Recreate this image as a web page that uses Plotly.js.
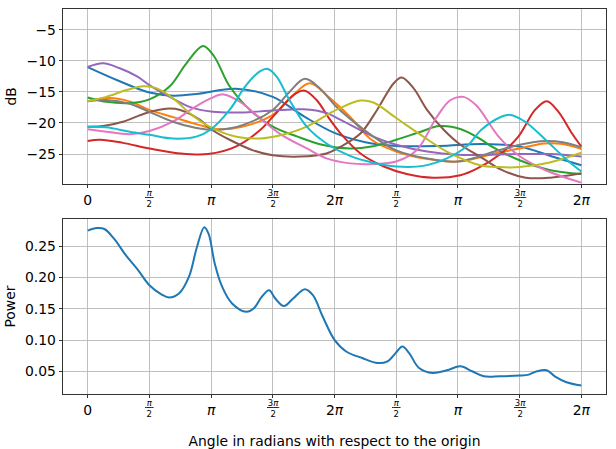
<!DOCTYPE html>
<html>
<head>
<meta charset="utf-8">
<script src="https://cdn.plot.ly/plotly-3.0.1.min.js"></script>
<style>html,body{margin:0;padding:0;background:#fff;}#chart{width:616px;height:449px;}</style>
</head>
<body>
<div id="chart"></div>
<script>
// Angles are given in units of pi/2 (quarter turns); converted to radians below.
const blueU   = [0, 0.5, 1, 1.4, 1.8, 2.4, 3, 3.5, 4, 4.5, 5, 5.7, 6.4, 7, 7.5, 8];
const blueDb  = [-11.0, -13.2, -15.1, -15.6, -15.3, -14.5, -15.8, -18.9, -21.6, -23.1, -23.7, -23.7, -23.4, -23.8, -25.3, -26.8];

const orangeU  = [0, 0.35, 0.7, 1, 1.4, 1.8, 2.1, 2.5, 3, 3.3, 3.6, 3.9, 4.25, 4.6, 5, 5.45, 6, 6.6, 7, 7.4, 7.7, 8];
const orangeDb = [-16.5, -16.0, -16.6, -17.9, -19.1, -20.3, -21.0, -20.6, -18.7, -15.8, -13.6, -15.8, -19.0, -22.7, -24.6, -25.7, -26.2, -24.9, -24.1, -23.3, -23.4, -24.2];

const greenU  = [0, 0.3, 0.7, 1, 1.33, 1.6, 1.87, 2.05, 2.3, 2.63, 3, 3.4, 3.8, 4.25, 4.6, 5, 5.4, 5.7, 6.05, 6.35, 6.55, 7, 7.5, 8];
const greenDb = [-15.9, -16.6, -16.8, -16.2, -14.1, -10.4, -7.6, -9.3, -14.1, -17.9, -20.6, -22.2, -23.5, -24.1, -23.8, -22.7, -21.4, -20.5, -21.0, -22.5, -23.8, -26.0, -27.6, -28.2];

const redU  = [0, 0.2, 0.57, 1, 1.5, 1.95, 2.4, 2.8, 3.1, 3.38, 3.52, 3.71, 3.93, 4.1, 4.42, 4.8, 5.17, 5.6, 6.04, 6.3, 6.7, 6.98, 7.25, 7.44, 7.63, 7.85, 8];
const redDb = [-22.9, -22.7, -23.2, -24.1, -24.9, -25.0, -23.8, -21.1, -17.9, -15.2, -14.8, -16.3, -19.5, -21.7, -24.9, -27.0, -28.2, -28.8, -28.4, -27.4, -24.9, -22.2, -17.9, -16.5, -18.2, -21.7, -23.8];

const purpleU  = [0, 0.25, 0.52, 0.8, 1, 1.33, 1.65, 2.03, 2.5, 3, 3.5, 3.87, 4.1, 4.63, 5, 5.5, 6, 7, 7.5, 8];
const purpleDb = [-11.0, -10.4, -11.2, -12.5, -13.9, -15.8, -17.4, -18.2, -18.3, -18.0, -17.8, -18.4, -19.5, -22.2, -23.5, -24.6, -25.1, -25.0, -25.0, -25.4];

const brownU  = [0, 0.25, 0.57, 0.95, 1.27, 1.5, 1.82, 2.0, 2.3, 2.68, 3, 3.44, 3.87, 4.1, 4.42, 4.69, 4.96, 5.09, 5.28, 5.5, 5.77, 6.04, 6.36, 6.7, 7.1, 7.5, 8];
const brownDb = [-20.6, -20.5, -19.8, -18.4, -17.7, -17.9, -19.5, -21.0, -22.7, -24.4, -25.2, -25.4, -24.9, -23.8, -21.7, -17.9, -13.6, -12.7, -14.4, -17.9, -21.1, -23.5, -25.4, -27.5, -28.8, -28.8, -28.1];

const pinkU  = [0, 0.3, 0.68, 1, 1.38, 1.71, 2.0, 2.2, 2.47, 2.79, 3.11, 3.55, 3.87, 4.25, 4.63, 5, 5.33, 5.66, 5.88, 6.09, 6.3, 6.66, 6.98, 7.42, 8];
const pinkDb = [-21.0, -21.4, -21.8, -21.3, -19.8, -17.6, -16.0, -15.4, -16.6, -19.2, -21.7, -24.1, -25.7, -26.5, -26.6, -26.2, -24.4, -19.0, -16.3, -15.8, -17.2, -22.2, -25.2, -27.6, -29.6];

const grayU  = [0, 0.3, 0.68, 1, 1.38, 1.76, 2.1, 2.52, 3, 3.27, 3.52, 3.76, 4.03, 4.25, 4.63, 5, 5.5, 6, 6.66, 7, 7.42, 7.7, 8];
const grayDb = [-16.5, -16.3, -16.9, -18.2, -19.8, -20.8, -21.1, -20.3, -17.9, -15.0, -12.9, -14.4, -17.4, -19.3, -22.2, -24.4, -25.7, -26.2, -24.4, -23.5, -22.9, -23.1, -23.9];

const oliveU  = [0, 0.3, 0.63, 0.9, 1.11, 1.38, 1.65, 1.92, 2.2, 2.41, 2.79, 3.16, 3.55, 3.93, 4.09, 4.42, 4.63, 5, 5.44, 5.82, 6.36, 6.66, 7, 7.47, 8];
const oliveDb = [-16.5, -15.8, -14.7, -14.1, -14.4, -16.0, -18.4, -20.3, -21.6, -22.2, -22.5, -21.9, -20.6, -18.4, -17.6, -16.4, -16.7, -19.2, -22.2, -24.6, -26.8, -27.1, -27.1, -26.4, -24.8];

const cyanU  = [0, 0.3, 0.68, 1, 1.38, 1.76, 2.0, 2.3, 2.57, 2.79, 2.92, 3.06, 3.27, 3.55, 3.87, 4.25, 4.63, 5, 5.44, 5.82, 6.14, 6.38, 6.66, 6.85, 7.09, 7.42, 7.74, 8];
const cyanDb = [-20.6, -20.7, -21.4, -21.9, -22.5, -22.2, -21.0, -17.9, -13.9, -11.7, -11.3, -12.5, -16.3, -20.6, -23.3, -25.3, -26.4, -27.0, -26.9, -25.7, -23.8, -21.1, -19.2, -18.7, -19.8, -22.7, -25.7, -27.8];

const powerU = [0, 0.15, 0.27, 0.43, 0.62, 0.82, 1.0, 1.2, 1.32, 1.48, 1.64, 1.77, 1.89, 1.96, 2.06, 2.18, 2.34, 2.57, 2.69, 2.82, 2.94, 3.04, 3.18, 3.33, 3.52, 3.65, 3.81, 4.0, 4.19, 4.45, 4.70, 4.86, 4.99, 5.10, 5.21, 5.37, 5.59, 5.82, 6.04, 6.23, 6.42, 6.68, 7.0, 7.15, 7.28, 7.44, 7.57, 7.76, 8];
const power  = [0.2749, 0.279, 0.2775, 0.2616, 0.2352, 0.2114, 0.1876, 0.1727, 0.168, 0.1743, 0.2008, 0.2484, 0.2802, 0.2696, 0.222, 0.1849, 0.1585, 0.1452, 0.1505, 0.169, 0.1796, 0.1664, 0.1542, 0.1664, 0.1812, 0.1717, 0.1373, 0.1003, 0.0817, 0.0712, 0.0632, 0.0659, 0.0791, 0.0897, 0.0791, 0.0553, 0.0473, 0.0516, 0.0579, 0.05, 0.042, 0.042, 0.0431, 0.0447, 0.05, 0.0516, 0.042, 0.0325, 0.0272];

const tickU = [0, 1, 2, 3, 4, 5, 6, 7, 8];
const tickLabels = ['0', 'π/2', 'π', '3π/2', '2π', 'π/2', 'π', '3π/2', '2π'];

const seriesColors = ['#1f77b4', '#ff7f0e', '#2ca02c', '#d62728', '#9467bd', '#8c564b', '#e377c2', '#7f7f7f', '#bcbd22', '#17becf'];
const seriesU  = [blueU, orangeU, greenU, redU, purpleU, brownU, pinkU, grayU, oliveU, cyanU];
const seriesDb = [blueDb, orangeDb, greenDb, redDb, purpleDb, brownDb, pinkDb, grayDb, oliveDb, cyanDb];

const toRad = u => u * Math.PI / 2;
const traces = [];
seriesU.forEach((us, i) => {
  traces.push({
    x: us.map(toRad), y: seriesDb[i], type: 'scatter', mode: 'lines',
    line: {color: seriesColors[i], width: 2, shape: 'spline', smoothing: 1},
    xaxis: 'x', yaxis: 'y', showlegend: false, hoverinfo: 'skip'
  });
});
traces.push({
  x: powerU.map(toRad), y: power, type: 'scatter', mode: 'lines',
  line: {color: '#1f77b4', width: 2, shape: 'spline', smoothing: 1},
  xaxis: 'x2', yaxis: 'y2', showlegend: false, hoverinfo: 'skip'
});

const FONT = 'DejaVu Sans, sans-serif';
const tickVals = tickU.map(toRad);
const italPi = s => s.replace('π', '<i>π</i>');
// Plain labels as tick text; fractional labels drawn as stacked text annotations.
const plainText = tickLabels.map(t => t.includes('/') ? '' : italPi(t));

const annotations = [];
['x', 'x2'].forEach((xr, ai) => {
  tickLabels.forEach((t, k) => {
    if (!t.includes('/')) return;
    const parts = t.split('/');
    const num = parts[0].length > 1 ? '\u200a' + italPi(parts[0]) + '\u200a' : '\u2009' + italPi(parts[0]) + '\u2009';
    annotations.push({
      x: tickVals[k], xref: xr, y: 0, yref: (ai === 0 ? 'y domain' : 'y2 domain'),
      yanchor: 'top', xanchor: 'center', showarrow: false, yshift: -2,
      text: '<u>' + num + '</u><br>' + parts[1],
      font: {family: FONT, size: 8.5, color: '#000'}
    });
  });
});

function xaxisDef(anchor) {
  return {
    anchor: anchor, range: [toRad(-0.4), toRad(8.4)], tickmode: 'array',
    tickvals: tickVals, ticktext: plainText, ticks: 'outside', ticklen: 3.5, tickwidth: 0.8,
    tickcolor: '#000', showline: true, linecolor: '#000', linewidth: 0.8, mirror: true,
    showgrid: true, gridcolor: '#b0b0b0', gridwidth: 0.8, zeroline: false,
    tickfont: {family: FONT, size: 13.9, color: '#000'}, automargin: false
  };
}
function yaxisDef(anchor, domain, range, vals, fmt, title) {
  return {
    anchor: anchor, domain: domain, range: range, tickmode: 'array', tickvals: vals,
    tickformat: fmt, ticks: 'outside', ticklen: 3.5, tickwidth: 0.8, tickcolor: '#000',
    showline: true, linecolor: '#000', linewidth: 0.8, mirror: true,
    showgrid: true, gridcolor: '#b0b0b0', gridwidth: 0.8, zeroline: false,
    tickfont: {family: FONT, size: 13.9, color: '#000'}, automargin: false,
    title: {text: title, font: {family: FONT, size: 13.9, color: '#000'}, standoff: 6}
  };
}

const x2 = xaxisDef('y2');
x2.title = {text: 'Angle in radians with respect to the origin', font: {family: FONT, size: 13.9, color: '#000'}, standoff: 22};

const layout = {
  width: 616, height: 449,
  margin: {l: 63.3, r: 10.3, t: 9.3, b: 55},
  paper_bgcolor: '#fff', plot_bgcolor: '#fff',
  showlegend: false,
  xaxis: xaxisDef('y'),
  yaxis: yaxisDef('x', [0.5459, 1], [-29.79, -1.66], [-25, -20, -15, -10, -5], 'd', 'dB'),
  xaxis2: x2,
  yaxis2: yaxisDef('x2', [0, 0.4541], [0.0137, 0.2932], [0.05, 0.10, 0.15, 0.20, 0.25], '.2f', 'Power'),
  annotations: annotations
};

Plotly.newPlot('chart', traces, layout, {displayModeBar: false, staticPlot: true});
</script>
</body>
</html>
